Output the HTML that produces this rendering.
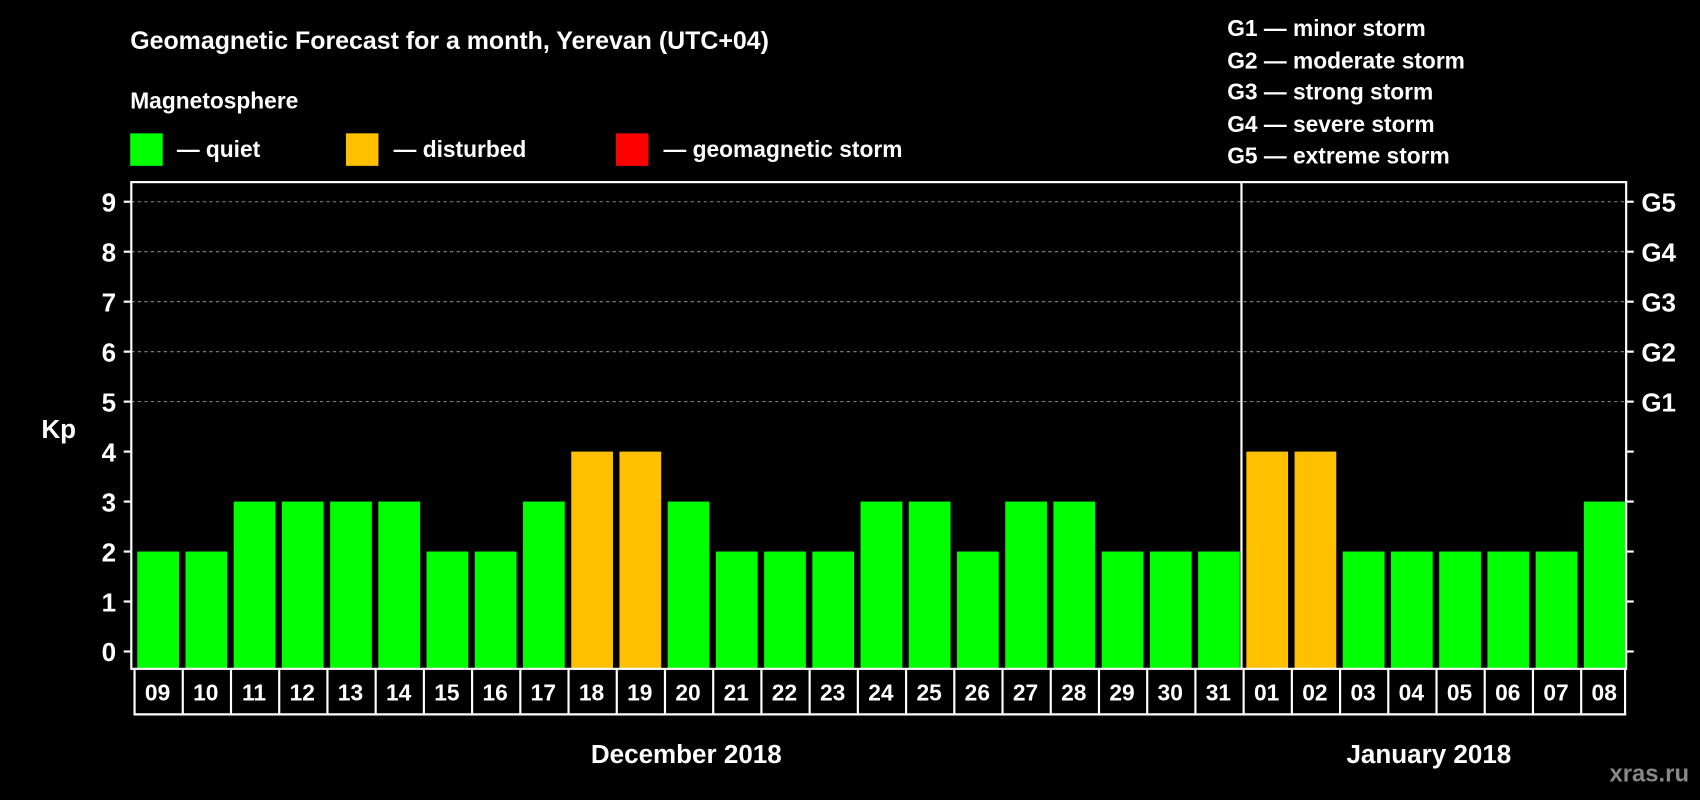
<!DOCTYPE html>
<html><head><meta charset="utf-8"><style>
html,body{margin:0;padding:0;background:#000;width:1700px;height:800px;overflow:hidden}
svg{display:block;font-family:"Liberation Sans",Arial,sans-serif;font-weight:bold}
</style></head><body>
<svg id="chart" width="1700" height="800" viewBox="0 0 1568 738" xmlns="http://www.w3.org/2000/svg">
<rect width="1568" height="738" fill="#000"/>
<text x="120" y="45" fill="#fff" font-size="23">Geomagnetic Forecast for a month, Yerevan (UTC+04)</text>
<text x="120" y="100" fill="#fff" font-size="21">Magnetosphere</text>
<g><rect x="120" y="123" width="30" height="30" fill="#00ff00"/><text x="163" y="145" fill="#fff" font-size="21">— quiet</text></g>
<g><rect x="319" y="123" width="30" height="30" fill="#ffc000"/><text x="363" y="145" fill="#fff" font-size="21">— disturbed</text></g>
<g><rect x="568" y="123" width="30" height="30" fill="#ff0000"/><text x="612" y="145" fill="#fff" font-size="21">— geomagnetic storm</text></g>
<g fill="#fff" font-size="21">
<text x="1132" y="33">G1 — minor storm</text>
<text x="1132" y="63">G2 — moderate storm</text>
<text x="1132" y="92">G3 — strong storm</text>
<text x="1132" y="122">G4 — severe storm</text>
<text x="1132" y="151">G5 — extreme storm</text>
</g>
<text x="38" y="404" fill="#fff" font-size="24">Kp</text>
<g id="grid"></g><g id="bars"></g><g id="axes"></g>
<text x="633" y="704" fill="#fff" font-size="24" text-anchor="middle">December 2018</text>
<text x="1318" y="704" fill="#fff" font-size="24" text-anchor="middle">January 2018</text>
<text x="1558" y="721" fill="#888" font-size="22" text-anchor="end">xras.ru</text>
</svg>
<script>
const days=["09","10","11","12","13","14","15","16","17","18","19","20","21","22","23","24","25","26","27","28","29","30","31","01","02","03","04","05","06","07","08"];
const kpValues=[2,2,3,3,3,3,2,2,3,4,4,3,2,2,2,3,3,2,3,3,2,2,2,4,4,2,2,2,2,2,3];
const yTicks=[0,1,2,3,4,5,6,7,8,9];
const gLabels=["G1","G2","G3","G4","G5"];
const NS="http://www.w3.org/2000/svg";
const L=121,R=1500,T=168,B=617;
const y=v=>601-v*46.1;
const pitch=(R-L)/days.length;
const x=i=>L+i*pitch;
function mk(tag,attrs,parent){const e=document.createElementNS(NS,tag);for(const k in attrs)e.setAttribute(k,attrs[k]);parent.appendChild(e);return e;}
const grid=document.getElementById('grid'),bars=document.getElementById('bars'),axes=document.getElementById('axes');
yTicks.forEach(v=>{
  if(v>=5){const g=mk('line',{x1:L,x2:R,y1:y(v),y2:y(v),stroke:'#888','stroke-dasharray':'3,3','stroke-width':1},grid);
  
  }
  mk('line',{x1:L-7,x2:L,y1:y(v),y2:y(v),stroke:'#fff','stroke-width':2},axes);
  mk('line',{x1:R,x2:R+7,y1:y(v),y2:y(v),stroke:'#fff','stroke-width':2},axes);
  const t=mk('text',{x:L-14,y:y(v)+9,fill:'#fff','font-size':24,'text-anchor':'end'},axes);
  t.textContent=v;
  
  
  if(v>=5){const g=mk('text',{x:R+14,y:y(v)+9,fill:'#fff','font-size':24},axes);g.textContent=gLabels[v-5];
  
  }
});
kpValues.forEach((v,i)=>{
  const b=mk('rect',{x:x(i)+5.5,y:y(v),width:pitch-6,height:B-y(v),fill:v>=5?'#ff0000':(v>=4?'#ffc000':'#00ff00')},bars);
  
  
  const t=mk('text',{x:x(i)+pitch/2+2,y:646,fill:'#fff','font-size':21,'text-anchor':'middle'},axes);
  t.textContent=days[i];
  
  
  mk('line',{x1:x(i)+3,x2:x(i)+3,y1:B,y2:660,stroke:'#fff','stroke-width':2},axes);
});
mk('line',{x1:R-1,x2:R-1,y1:B,y2:660,stroke:'#fff','stroke-width':2},axes);
mk('line',{x1:L+3,x2:R,y1:659,y2:659,stroke:'#fff','stroke-width':2},axes);
const f=mk('rect',{x:L,y:T,width:R-L,height:B-T,fill:'none',stroke:'#fff','stroke-width':2},axes);


const div=mk('line',{x1:x(23)+1,x2:x(23)+1,y1:T,y2:B,stroke:'#fff','stroke-width':2},axes);


</script>
</body></html>
